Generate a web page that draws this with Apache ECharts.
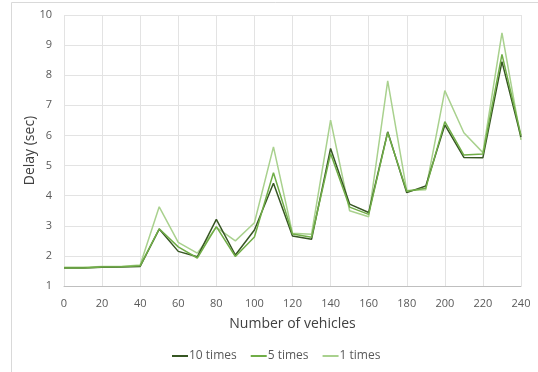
<!DOCTYPE html>
<html><head><meta charset="utf-8">
<script src="https://cdn.jsdelivr.net/npm/echarts@6/dist/echarts.min.js"></script>
<style>html,body{margin:0;padding:0;background:#fff}#c{width:538px;height:372px}</style>
</head><body><div id="c"></div>
<script>
const vehicles = [0,10,20,30,40,50,60,70,80,90,100,110,120,130,140,150,160,170,180,190,200,210,220,230,240];
const times10 = [1.6,1.6,1.62,1.63,1.65,2.89,2.15,1.97,3.21,2.03,2.86,4.41,2.66,2.55,5.57,3.72,3.44,6.12,4.1,4.32,6.35,5.27,5.26,8.45,5.95];
const times5  = [1.6,1.6,1.63,1.64,1.67,2.9,2.3,1.93,2.97,1.98,2.63,4.76,2.73,2.62,5.4,3.62,3.38,6.1,4.15,4.25,6.46,5.35,5.38,8.69,6.0];
const times1  = [1.62,1.62,1.65,1.65,1.7,3.63,2.45,2.09,2.95,2.5,3.1,5.62,2.75,2.72,6.51,3.5,3.3,7.81,4.17,4.2,7.49,6.09,5.43,9.41,5.85];
const seriesNames = ['10 times','5 times','1 times'];
const colors = ['#375623','#70AD47','#A9D18E'];
const font = 'Open Sans';
const chart = echarts.init(document.getElementById('c'));
const mk = (arr) => vehicles.map((v,i)=>[v,arr[i]]);
chart.setOption({
  animation:false,
  graphic:[{type:'rect',shape:{x:11.5,y:2.5,width:600,height:500},style:{fill:'none',stroke:'#d9d9d9',lineWidth:1},silent:true}],
  grid:{left:64,right:17,top:15,bottom:86},
  legend:{bottom:5,left:167,itemWidth:16,itemHeight:2,itemGap:14,icon:'rect',
    textStyle:{fontFamily:font,fontSize:12,color:'#595959',padding:[0,0,0,-4]},data:seriesNames},
  xAxis:{type:'value',min:0,max:240,interval:20,name:'Number of vehicles',nameLocation:'middle',nameGap:31,
    nameTextStyle:{fontFamily:font,fontSize:14,color:'#404040'},
    axisLine:{lineStyle:{color:'#bfbfbf'}},axisTick:{show:false},
    axisLabel:{fontFamily:font,fontSize:11,color:'#595959',margin:12},
    splitLine:{show:true,lineStyle:{color:'#e3e3e3'}}},
  yAxis:{type:'value',min:1,max:10,interval:1,name:'Delay (sec)',nameLocation:'middle',nameGap:27,nameMoveOverlap:false,
    nameTextStyle:{fontFamily:font,fontSize:14,color:'#404040'},
    axisLine:{show:false},axisTick:{show:false},
    axisLabel:{fontFamily:font,fontSize:11,color:'#595959',margin:12},
    splitLine:{lineStyle:{color:'#e3e3e3'}}},
  series:[
    {name:seriesNames[0],type:'line',data:mk(times10),symbol:'none',lineStyle:{width:1.5,color:colors[0]},itemStyle:{color:colors[0]},z:3},
    {name:seriesNames[1],type:'line',data:mk(times5),symbol:'none',lineStyle:{width:1.5,color:colors[1]},itemStyle:{color:colors[1]},z:4},
    {name:seriesNames[2],type:'line',data:mk(times1),symbol:'none',lineStyle:{width:1.5,color:colors[2]},itemStyle:{color:colors[2]},z:2}
  ]
});
</script></body></html>
